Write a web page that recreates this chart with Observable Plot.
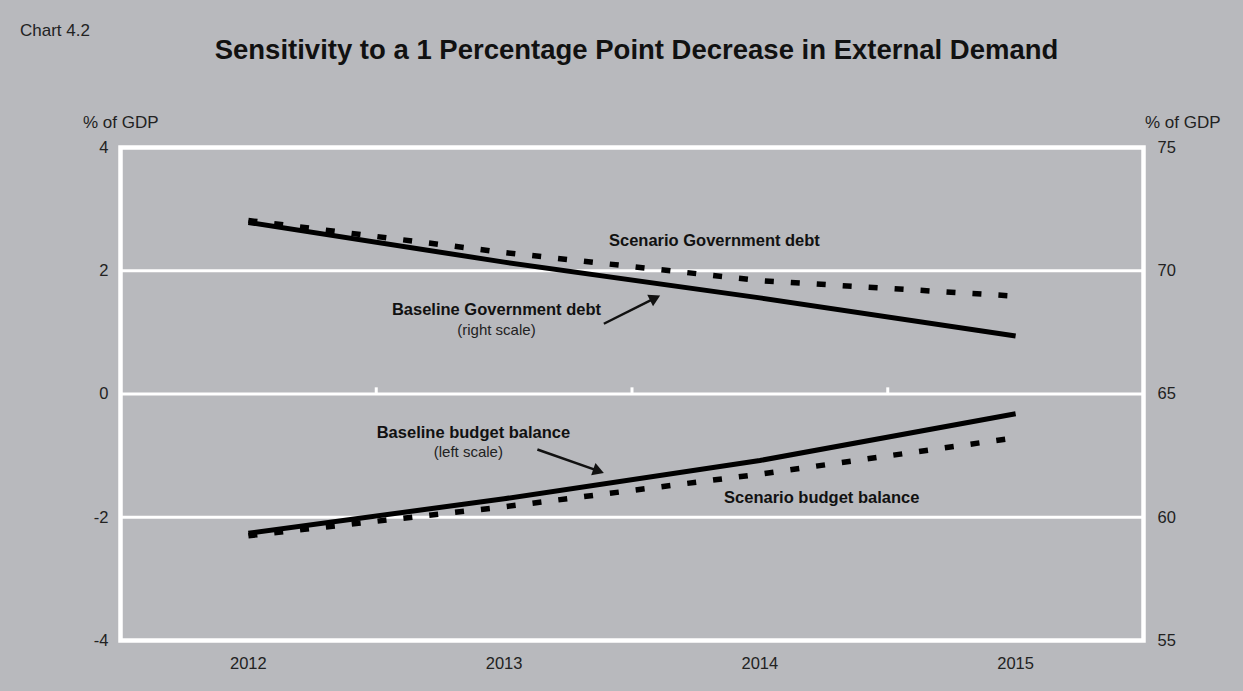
<!DOCTYPE html>
<html>
<head>
<meta charset="utf-8">
<script src="https://cdn.jsdelivr.net/npm/d3@7"></script>
<script src="https://cdn.jsdelivr.net/npm/@observablehq/plot@0.6"></script>
<style>
  html, body { margin: 0; padding: 0; background: #b8b9bd; }
  #wrap { position: relative; width: 1243px; height: 691px; background: #b8b9bd; font-family: "Liberation Sans", Arial, sans-serif; color: #222; }
  .abs { position: absolute; white-space: nowrap; line-height: 1; }
  #chartno { left: 20px; top: 22px; font-size: 17px; }
  #title { left: 0; width: 1273px; top: 36px; text-align: center; font-size: 27.5px; font-weight: bold; color: #111; }
  #ul { left: 83px; top: 114px; font-size: 17px; }
  #ur { left: 1145px; top: 114px; font-size: 17px; }
  #chart { position: absolute; left: 0; top: 0; }
</style>
</head>
<body>
<div id="wrap">
  <div class="abs" id="chartno">Chart 4.2</div>
  <div class="abs" id="title">Sensitivity to a 1 Percentage Point Decrease in External Demand</div>
  <div class="abs" id="ul">% of GDP</div>
  <div class="abs" id="ur">% of GDP</div>
  <div id="chart"></div>
</div>
<script>
// ---- data ----
const years = [2012, 2013, 2014, 2015];
const baselineDebt = [71.96, 70.35, 68.9, 67.35];      // right scale, % of GDP
const scenarioDebt = [72.04, 70.74, 69.6, 68.97];      // right scale, % of GDP
const baselineBalance = [-2.26, -1.7, -1.08, -0.32];   // left scale, % of GDP
const scenarioBalance = [-2.3, -1.83, -1.3, -0.71];    // left scale, % of GDP
const leftTicks = [-4, -2, 0, 2, 4];
const rightTicks = [55, 60, 65, 70, 75];
const gridValues = [-2, 0, 2];
const bandEdges = [2012.5, 2013.5, 2014.5];

// annotation labels (x in years, y in left-scale units)
const labelText = ["Scenario Government debt", "Baseline Government debt", "(right scale)", "Baseline budget balance", "(left scale)", "Scenario budget balance"];
const labelX = [2013.41, 2012.97, 2012.97, 2012.88, 2012.86, 2013.86];
const labelY = [2.48, 1.36, 1.03, -0.625, -0.95, -1.68];
const labelBold = [true, true, false, true, false, true];
const labelAnchor = ["start", "middle", "middle", "middle", "middle", "start"];
// arrows (tail -> tip)
const arrowX1 = [2013.39, 2013.13];
const arrowY1 = [1.14, -0.90];
const arrowX2 = [2013.61, 2013.39];
const arrowY2 = [1.60, -1.28];

// right axis (55..75) mapped onto left axis (-4..4)
const toLeft = v => (v - 65) / 2.5;
const toRight = v => 65 + v * 2.5;

const W = 1243, H = 691, ML = 120, MR = 100, MT = 147, MB = 51;
const xDomain = [2011.5, 2015.5], yDomain = [-4, 4];
const sx = d3.scaleLinear(xDomain, [ML, W - MR]);
const sy = d3.scaleLinear(yDomain, [H - MB, MT]);

const mk = (vals, conv) => years.map((yr, i) => ({year: yr, v: conv ? conv(vals[i]) : vals[i]}));
const labels = labelText.map((t, i) => ({t, x: labelX[i], y: labelY[i], bold: labelBold[i], anchor: labelAnchor[i]}));

// arrowheads: filled triangles whose tip sits on the arrow end
const headR = 4.8;
const headHalf = Math.sqrt(Math.PI * headR * headR / (Math.sqrt(3) * 3)); // d3 triangle centroid-to-base
const arrows = arrowX1.map((_, i) => {
  const px1 = sx(arrowX1[i]), py1 = sy(arrowY1[i]), px2 = sx(arrowX2[i]), py2 = sy(arrowY2[i]);
  const dx = px2 - px1, dy = py2 - py1, len = Math.hypot(dx, dy);
  const ux = dx / len, uy = dy / len;
  const cx = px2 - ux * 2 * headHalf, cy = py2 - uy * 2 * headHalf;
  return {
    x1: arrowX1[i], y1: arrowY1[i],
    x2: sx.invert(cx), y2: sy.invert(cy),
    angle: Math.atan2(dx, -dy) * 180 / Math.PI
  };
});

const plot = Plot.plot({
  width: W,
  height: H,
  marginLeft: ML,
  marginRight: MR,
  marginTop: MT,
  marginBottom: MB,
  style: {background: "transparent", fontFamily: "Liberation Sans, Arial, sans-serif", fontSize: "16.5px", color: "#222"},
  x: {domain: xDomain, axis: null},
  y: {domain: yDomain, axis: null},
  marks: [
    Plot.ruleY(gridValues, {stroke: "white", strokeWidth: 3}),
    Plot.ruleX(bandEdges, {y1: 0, y2: 0.1, stroke: "white", strokeWidth: 3}),
    Plot.frame({stroke: "white", strokeWidth: 4.5}),
    Plot.axisY({anchor: "left", ticks: leftTicks, tickSize: 0, tickPadding: 12, tickFormat: d => String(d), label: null, fill: "#222"}),
    Plot.axisY({anchor: "right", ticks: leftTicks, tickSize: 0, tickPadding: 14, tickFormat: d => String(toRight(d)), label: null, fill: "#222"}),
    Plot.axisX({ticks: years, tickSize: 0, tickPadding: 17, tickFormat: d => String(d), label: null, fill: "#222"}),
    Plot.line(mk(scenarioDebt, toLeft), {x: "year", y: "v", stroke: "black", strokeWidth: 5.5, strokeDasharray: "9,17", strokeLinecap: "butt"}),
    Plot.line(mk(baselineDebt, toLeft), {x: "year", y: "v", stroke: "black", strokeWidth: 5, strokeLinecap: "butt"}),
    Plot.line(mk(scenarioBalance), {x: "year", y: "v", stroke: "black", strokeWidth: 5.5, strokeDasharray: "9,17", strokeLinecap: "butt"}),
    Plot.line(mk(baselineBalance), {x: "year", y: "v", stroke: "black", strokeWidth: 5, strokeLinecap: "butt"}),
    Plot.link(arrows, {x1: "x1", y1: "y1", x2: "x2", y2: "y2", stroke: "#111", strokeWidth: 2.5}),
    Plot.dot(arrows, {x: "x2", y: "y2", symbol: "triangle", r: headR, fill: "#111", stroke: "none", rotate: "angle"}),
    Plot.text(labels.filter(d => d.bold && d.anchor === "start"), {x: "x", y: "y", text: "t", fontWeight: "bold", fontSize: 16.5, textAnchor: "start", fill: "#111"}),
    Plot.text(labels.filter(d => d.bold && d.anchor === "middle"), {x: "x", y: "y", text: "t", fontWeight: "bold", fontSize: 16.5, textAnchor: "middle", fill: "#111"}),
    Plot.text(labels.filter(d => !d.bold), {x: "x", y: "y", text: "t", fontSize: 15, textAnchor: "middle", fill: "#222"})
  ]
});
document.getElementById("chart").appendChild(plot);
</script>
</body>
</html>
